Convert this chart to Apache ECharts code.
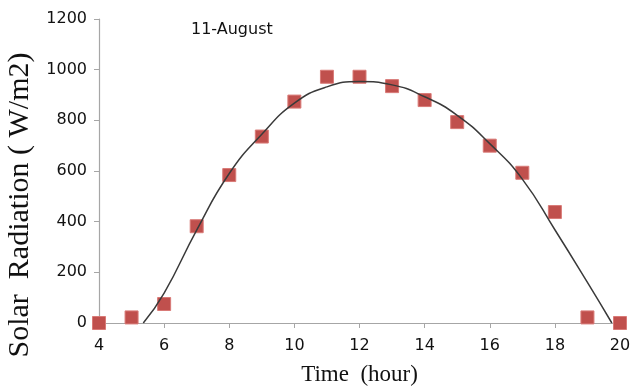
<!DOCTYPE html>
<html>
<head>
<meta charset="utf-8">
<script src="https://cdn.jsdelivr.net/npm/echarts@6/dist/echarts.min.js"></script>
<style>html,body{margin:0;padding:0;background:#fff;}#c{width:632px;height:388px;}</style>
</head>
<body>
<div id="c"></div>
<script>
// Measured data (hour, W/m2)
var hours = [4, 5, 6, 7, 8, 9, 10, 11, 12, 13, 14, 15, 16, 17, 18, 19, 20];
var radiation = [0, 22, 75, 382, 584, 736, 874, 972, 972, 935, 880, 793, 700, 593, 438, 22, 0];
// Fitted trend curve
var trendHours = [5.36, 6, 7, 8, 9, 10, 11, 12, 13, 14, 15, 16, 17, 18, 19, 19.75];
var trendValues = [0, 118, 367, 590, 745, 868, 932, 953, 940, 893, 820, 708, 568, 368, 160, 0];
var xTicks = [4, 6, 8, 10, 12, 14, 16, 18, 20];
var yTicks = [0, 200, 400, 600, 800, 1000, 1200];
var chartTitle = '11-August';
var xName = 'Time  (hour)';
var yName = 'Solar  Radiation ( W/m2)';

var scatterData = hours.map(function (h, i) { return [h, radiation[i]]; });
var trendData = trendHours.map(function (h, i) { return [h, trendValues[i]]; });

var chart = echarts.init(document.getElementById('c'), null, {renderer: 'canvas'});
var axisColor = '#a6a6a6';
var sans = 'DejaVu Sans';
var serif = 'Liberation Serif';
chart.setOption({
  animation: false,
  backgroundColor: '#ffffff',
  title: {
    text: chartTitle,
    left: 186, top: 17,
    textStyle: {fontFamily: sans, fontSize: 16, fontWeight: 'normal', color: '#111'}
  },
  grid: {left: 99, right: 12, top: 19, bottom: 65, containLabel: false, outerBoundsMode: 'none'},
  xAxis: {
    type: 'value',
    min: xTicks[0], max: xTicks[xTicks.length - 1], interval: 2,
    name: xName, nameLocation: 'middle', nameGap: 40,
    nameTextStyle: {fontFamily: serif, fontSize: 23, color: '#111'},
    axisLine: {show: true, onZero: false, lineStyle: {color: axisColor, width: 1.2}},
    axisTick: {show: true, length: 5, lineStyle: {color: axisColor}},
    axisLabel: {margin: 15, fontFamily: sans, fontSize: 16, color: '#111',
      formatter: function (v) { return String(v); }},
    splitLine: {show: false}
  },
  yAxis: {
    type: 'value',
    min: yTicks[0], max: yTicks[yTicks.length - 1], interval: 200,
    name: yName, nameLocation: 'middle', nameGap: 59, nameRotate: 90,
    nameTextStyle: {fontFamily: serif, fontSize: 30, color: '#111', padding: [0, 68, 0, 0]},
    axisLine: {show: true, lineStyle: {color: axisColor, width: 1.2}},
    axisTick: {show: true, length: 5, lineStyle: {color: axisColor}},
    axisLabel: {margin: 12, fontFamily: sans, fontSize: 16, color: '#111',
      formatter: function (v) { return String(v); }},
    splitLine: {show: false}
  },
  series: [
    {
      type: 'scatter',
      data: scatterData,
      symbol: 'rect',
      symbolSize: 13,
      itemStyle: {color: '#c0504d', borderColor: '#d97a77', borderWidth: 1, opacity: 1},
      z: 2
    },
    {
      type: 'line',
      data: trendData,
      smooth: 0.5,
      showSymbol: false,
      lineStyle: {color: '#3a3a3a', width: 1.5},
      z: 3
    }
  ]
});
</script>
</body>
</html>
